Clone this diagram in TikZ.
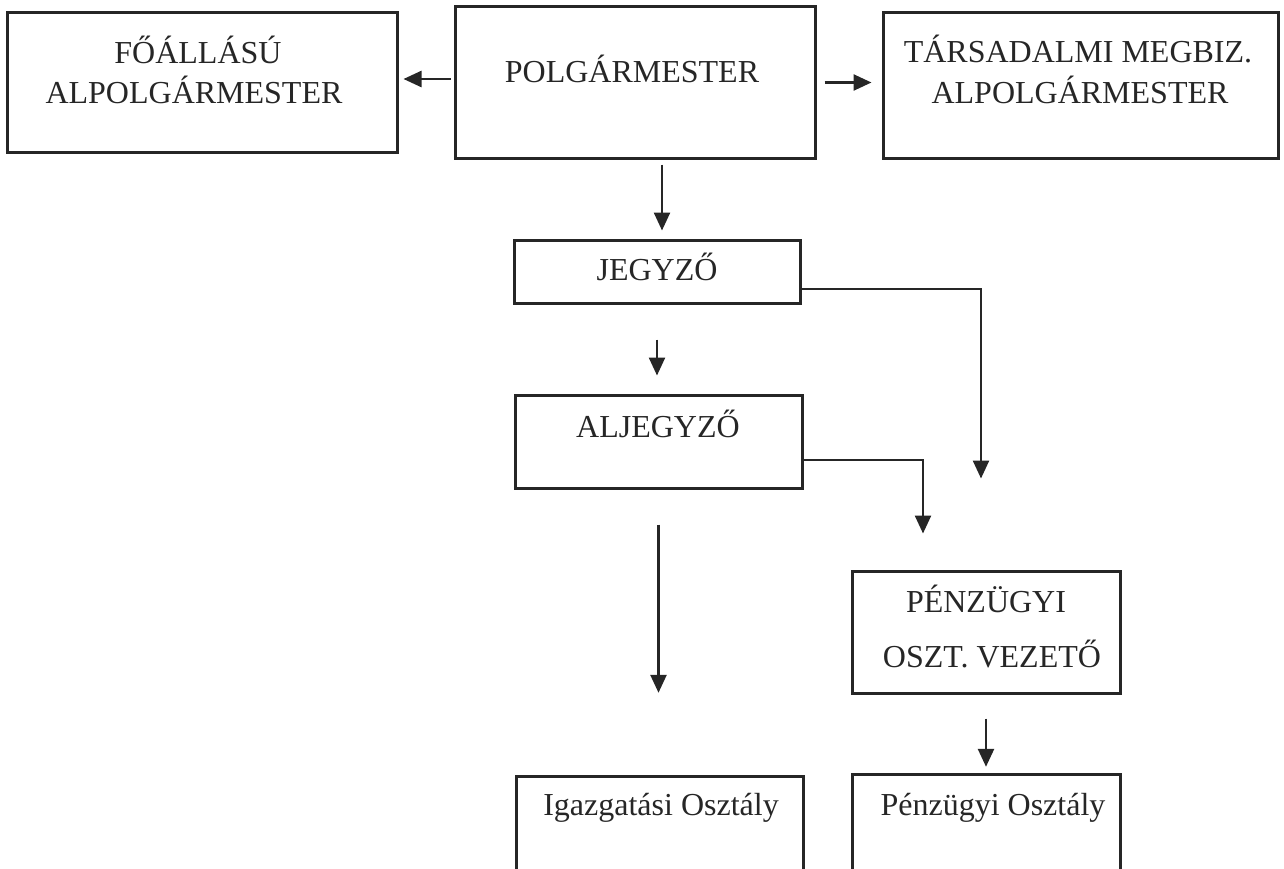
\documentclass[tikz,border=0pt]{standalone}
\usepackage{fontspec}
\setmainfont{Liberation Serif}
\usetikzlibrary{arrows.meta}
\definecolor{ink}{HTML}{262626}
\begin{document}
\begin{tikzpicture}[x=1bp,y=-1bp,
  box/.style={draw=ink, line width=3bp, inner sep=0pt, rectangle},
  openbox/.style={draw=none, inner sep=0pt, rectangle},
  boxline/.style={draw=ink, line width=3bp},
  txt/.style={font=\fontsize{32bp}{40bp}\selectfont, text=ink, inner sep=0pt, anchor=base},
  conn/.style={draw=ink, line width=2.5bp, -{Triangle[width=16bp,length=18bp]}}]
\useasboundingbox (0,0) rectangle (1284,869);

% boxes
\node[box, minimum width=389bp, minimum height=139bp] (fo) at (202.5,82.5) {};
\node[box, minimum width=360bp, minimum height=151bp] (polg) at (635,82.5) {};
\node[box, minimum width=395bp, minimum height=145bp] (tars) at (1080.5,85.5) {};
\node[box, minimum width=286bp, minimum height=63bp] (jegy) at (657,271.5) {};
\node[box, minimum width=287bp, minimum height=93bp] (aljegy) at (658.5,441.5) {};
\node[box, minimum width=268bp, minimum height=122bp] (penzv) at (986,632) {};
\node[openbox, minimum width=286bp, minimum height=92bp] (igaz) at (660,823) {};
\node[openbox, minimum width=267bp, minimum height=94bp] (penzo) at (986.5,822) {};
\draw[boxline] (igaz.south west) -- (igaz.north west) -- (igaz.north east) -- (igaz.south east);
\draw[boxline] (penzo.south west) -- (penzo.north west) -- (penzo.north east) -- (penzo.south east);

% texts
\node[txt] (fo1) at (198,63) {FŐÁLLÁSÚ};
\node[txt] (fo2) at (194,103) {ALPOLGÁRMESTER};
\node[txt] (polg1) at (632,82) {POLGÁRMESTER};
\node[txt] (tars1) at (1078,62) {TÁRSADALMI MEGBIZ.};
\node[txt] (tars2) at (1080,103) {ALPOLGÁRMESTER};
\node[txt] (jegy1) at (657,280) {JEGYZŐ};
\node[txt] (aljegy1) at (658,437) {ALJEGYZŐ};
\node[txt] (penzv1) at (986,612) {PÉNZÜGYI};
\node[txt] (penzv2) at (992,667) {OSZT. VEZETŐ};
\node[txt] (igaz1) at (661,815) {Igazgatási Osztály};
\node[txt] (penzo1) at (993,815) {Pénzügyi Osztály};

% connectors
\draw[conn, shorten <=3bp, shorten >=5bp] ([yshift=3.5bp]polg.west) -- ([yshift=3.5bp]fo.east);
\draw[conn, shorten <=8bp, shorten >=10bp] (polg.east) -- (tars.west |- polg.east);
\draw[conn, shorten <=5bp, shorten >=8bp] ([xshift=5bp]jegy.north |- polg.south) -- ([xshift=5bp]jegy.north);
\draw[conn, shorten <=35bp, shorten >=18bp] (jegy.south) -- (aljegy.north -| jegy.south);
\draw[conn, shorten >=91bp] ([yshift=-17.5bp]jegy.east) -| ([xshift=-5bp]penzv.north);
\draw[conn, shorten >=36bp] ([yshift=-18.5bp]aljegy.east) -| ([xshift=-63bp]penzv.north);
\draw[conn, shorten <=35bp, shorten >=84bp] (aljegy.south) -- (aljegy.south |- igaz.north);
\draw[conn, shorten <=24bp, shorten >=8bp] (penzv.south) -- (penzo.north -| penzv.south);
\end{tikzpicture}
\end{document}
